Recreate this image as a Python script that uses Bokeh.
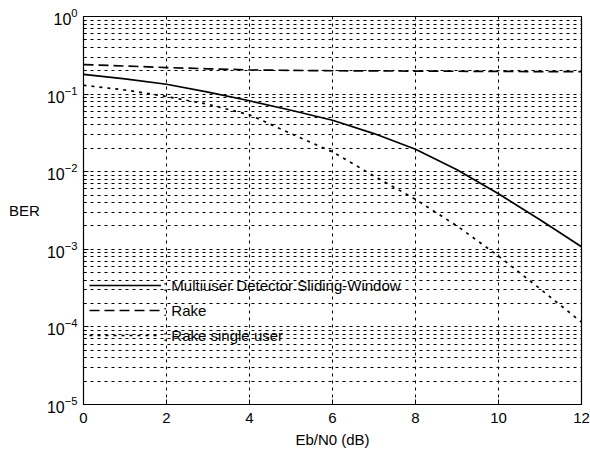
from bokeh.plotting import figure
from bokeh.models import FixedTicker, Legend
from bokeh.embed import file_html
from bokeh.resources import INLINE

# ---- data ----
ebn0 = [0, 1, 2, 3, 4, 5, 6, 7, 8, 9, 10, 11, 12]
ber_mud = [0.18, 0.157, 0.134, 0.106, 0.082, 0.062, 0.046, 0.031, 0.0195, 0.0106, 0.0052, 0.0024, 0.00108]
ber_rake = [0.24, 0.23, 0.22, 0.212, 0.205, 0.202, 0.2, 0.199, 0.198, 0.197, 0.196, 0.195, 0.195]
ber_rake_su = [0.13, 0.113, 0.093, 0.074, 0.054, 0.031, 0.018, 0.0088, 0.0044, 0.0020, 0.00082, 0.00031, 0.000115]

x_ticks = [0, 2, 4, 6, 8, 10, 12]
y_major = [1e-5, 1e-4, 1e-3, 1e-2, 1e-1, 1]
y_minor = [k * d for d in [1e-5, 1e-4, 1e-3, 1e-2, 1e-1] for k in range(2, 10)]

label_mud = ": Multiuser Detector Sliding-Window"
label_rake = ": Rake"
label_su = ": Rake single user"
x_label = "Eb/N0 (dB)"
y_label = "BER"

FONT = "Liberation Sans"

p = figure(width=590, height=450, y_axis_type="log",
           x_range=(0, 12), y_range=(1e-5, 1),
           output_backend="svg", toolbar_location=None,
           min_border_left=83, min_border_right=9,
           min_border_top=16, min_border_bottom=44)

p.background_fill_color = "white"
p.border_fill_color = "white"
p.outline_line_color = "black"
p.outline_line_width = 1.2

# axes
p.xaxis.ticker = FixedTicker(ticks=x_ticks)
p.yaxis.ticker = FixedTicker(ticks=y_major, minor_ticks=y_minor)
for ax in (p.xaxis[0], p.yaxis[0]):
    ax.axis_line_color = "black"
    ax.major_tick_in = 5
    ax.major_tick_out = 0
    ax.minor_tick_in = 3
    ax.minor_tick_out = 0
    ax.major_tick_line_color = "black"
    ax.minor_tick_line_color = "black"
    ax.major_label_text_font = FONT
    ax.major_label_text_color = "black"
    ax.axis_label_text_font = FONT
    ax.axis_label_text_font_style = "normal"
    ax.axis_label_text_color = "black"
    ax.axis_label_text_font_size = "15px"
p.xaxis.minor_tick_line_color = None
p.xaxis.major_label_text_font_size = "15px"
p.xaxis.major_label_standoff = 8
p.yaxis.major_label_text_font_size = "16px"
p.yaxis.major_label_standoff = 6

p.xaxis.axis_label = x_label
p.xaxis.axis_label_standoff = 5
p.yaxis.axis_label = y_label
p.yaxis.axis_label_orientation = "horizontal"
p.yaxis.axis_label_standoff = 4

# grids (MATLAB-style dotted)
for g in (p.xgrid[0], p.ygrid[0]):
    g.grid_line_color = "black"
    g.grid_line_dash = "3 4"
    g.grid_line_width = 1
p.ygrid.minor_grid_line_color = "black"
p.ygrid.minor_grid_line_dash = "3 4"
p.ygrid.minor_grid_line_width = 1

# curves
r1 = p.line(ebn0, ber_mud, line_color="black", line_width=1.7)
r2 = p.line(ebn0, ber_rake, line_color="black", line_width=1.7, line_dash="10 5")
r3 = p.line(ebn0, ber_rake_su, line_color="black", line_width=1.7, line_dash="3 5")

legend = Legend(items=[(label_mud, [r1]), (label_rake, [r2]), (label_su, [r3])],
                location=(6, 58), orientation="vertical",
                background_fill_alpha=0, border_line_alpha=0,
                label_text_font=FONT, label_text_font_size="15px",
                label_text_color="black",
                glyph_width=72, glyph_height=22, label_height=22,
                spacing=3, padding=0, margin=0, label_standoff=2)
p.add_layout(legend, "center")

open("out.html", "w").write(file_html(p, INLINE))
